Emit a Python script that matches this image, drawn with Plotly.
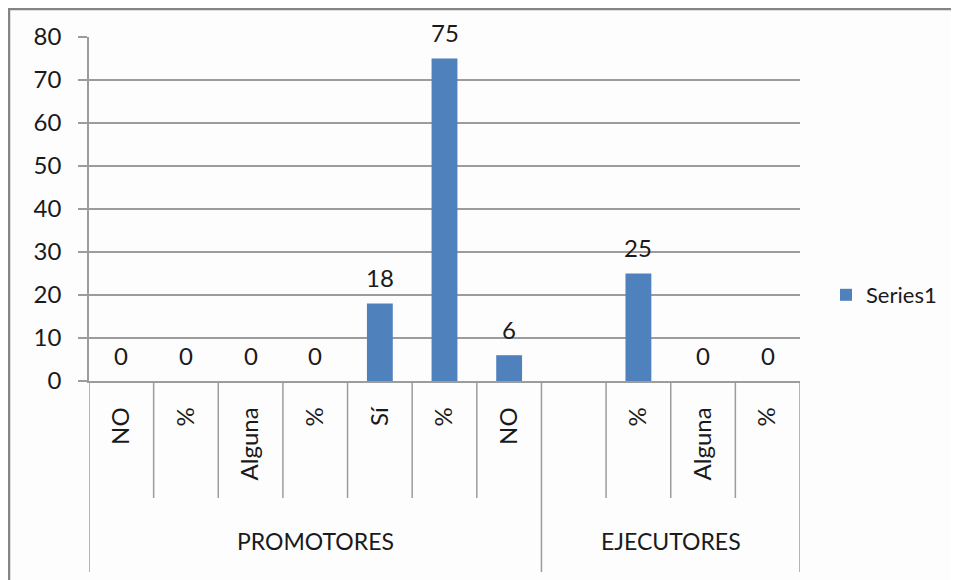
import plotly.graph_objects as go

# ---- data ----
groups = ["PROMOTORES", "EJECUTORES"]
group_sizes = [7, 4]
subcats = ["NO", "%", "Alguna", "%", "Sí", "%", "NO", "", "%", "Alguna", "%"]
values = [0, 0, 0, 0, 18, 75, 6, None, 25, 0, 0]
series_name = "Series1"
y_ticks = [0, 10, 20, 30, 40, 50, 60, 70, 80]

FONT = "Lato"
OFF = 8  # page body margin
W, H = 959 - OFF, 580 - OFF
# plot area in window pixels: x 89..800, y 37..381
L = 89 - OFF
T = 37 - OFF
R = W - (800 - OFF)
B = H - (381 - OFF)
plot_h = H - T - B
plot_w = W - L - R

def py(win_y):
    """window pixel y -> paper y"""
    return ((381 - OFF) - (win_y - OFF)) / plot_h

def px_x(win_x):
    return ((win_x - OFF) - L) / plot_w

xs = list(range(len(subcats)))

fig = go.Figure()
fig.add_trace(go.Bar(
    x=xs, y=values, name=series_name,
    marker=dict(color="#4F81BD", line=dict(width=0)),
    width=0.4, showlegend=True,
))

TXT = "#1a1a1a"
# data labels
annotations = []
for x, v in zip(xs, values):
    if v is None:
        continue
    annotations.append(dict(
        x=x, y=v, xref="x", yref="y", text=str(v), showarrow=False,
        yshift=26, yanchor="middle", xanchor="center",
        font=dict(family=FONT, size=24, color=TXT),
    ))

# group labels
start = 0
group_bounds = [-0.5]
for g, n in zip(groups, group_sizes):
    center = start + (n - 1) / 2
    annotations.append(dict(
        x=center, y=py(541), xref="x", yref="paper", text=g, showarrow=False,
        yanchor="middle", xanchor="center",
        font=dict(family=FONT, size=23, color=TXT),
    ))
    start += n
    group_bounds.append(start - 0.5)

shapes = []
line_col = "#9c9c9c"
# category dividers
for i in range(len(subcats) + 1):
    b = i - 0.5
    long_line = any(abs(b - gb) < 1e-9 for gb in group_bounds)
    shapes.append(dict(
        type="line", xref="x", yref="paper", x0=b, x1=b,
        y0=0, y1=py(572) if long_line else py(498),
        line=dict(color=line_col, width=1.5),
    ))

# outer chart frame
shapes.append(dict(
    type="rect", xref="paper", yref="paper",
    x0=px_x(9), x1=px_x(1000), y0=py(640), y1=py(9),
    line=dict(color="#858585", width=2.5), fillcolor="rgba(0,0,0,0)",
))

fig.update_layout(
    width=W, height=H,
    margin=dict(l=L, r=R, t=T, b=B, pad=0),
    paper_bgcolor="#fdfdfd", plot_bgcolor="#fdfdfd",
    font=dict(family=FONT, size=23, color=TXT),
    bargap=0.6,
    annotations=annotations,
    shapes=shapes,
    legend=dict(
        x=px_x(826), y=py(295), xanchor="left", yanchor="middle",
        xref="paper", yref="paper",
        font=dict(family=FONT, size=22, color=TXT),
        bgcolor="rgba(0,0,0,0)", itemwidth=30,
    ),
)

fig.update_xaxes(
    range=[-0.5, len(subcats) - 0.5],
    tickmode="array", tickvals=xs, ticktext=subcats, tickangle=-90,
    ticks="", showgrid=False, zeroline=False,
    showline=True, linecolor=line_col, linewidth=1.5,
    ticklabelstandoff=15,
    tickfont=dict(family=FONT, size=24, color=TXT),
)
fig.update_yaxes(
    range=[0, 80], tickmode="array", tickvals=y_ticks,
    showgrid=True, gridcolor=line_col, gridwidth=1.5,
    zeroline=False,
    showline=True, linecolor=line_col, linewidth=1.5,
    ticks="outside", ticklen=9, tickcolor=line_col, tickwidth=1.5,
    ticklabelstandoff=12,
    tickfont=dict(family=FONT, size=24, color=TXT),
)

fig.write_html("out.html")
